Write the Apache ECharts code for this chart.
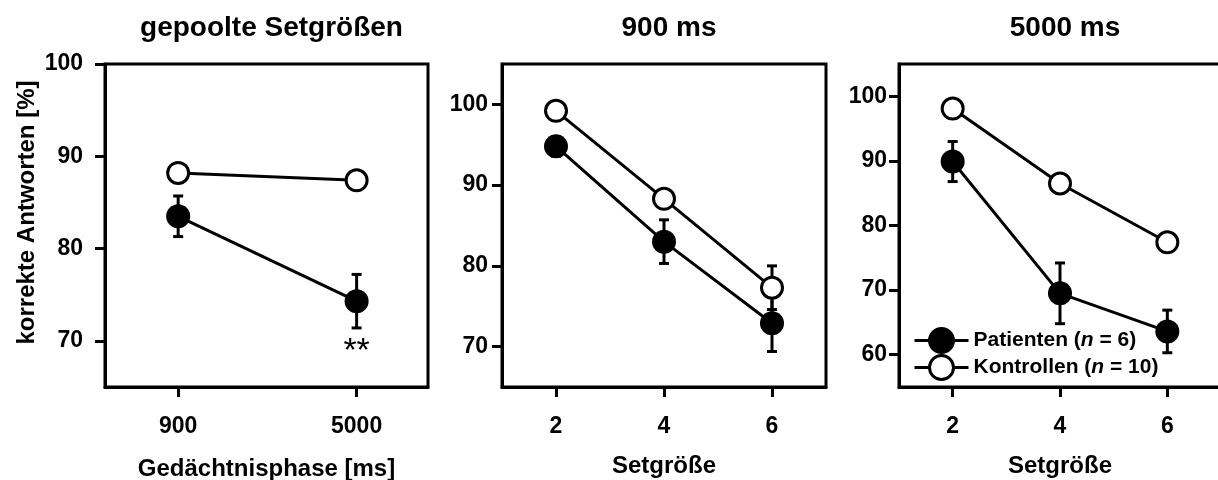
<!DOCTYPE html>
<html>
<head>
<meta charset="utf-8">
<script src="https://cdn.jsdelivr.net/npm/echarts@6/dist/echarts.min.js"></script>
<style>
html,body{margin:0;padding:0;background:#fff;}
#chart{width:1218px;height:480px;}
</style>
</head>
<body>
<div id="chart"></div>
<script>
// ---- data ----
const panelTitles = ['gepoolte Setgrößen', '900 ms', '5000 ms'];
const phaseLabels = ['900', '5000'];
const phaseIdx = [0, 1];
const setSizes = [2, 4, 6];
const legendNames = ['Patienten', 'Kontrollen'];
const legendN = ['6', '10'];
const yTitle = 'korrekte Antworten [%]';
const xTitles = ['Gedächtnisphase [ms]', 'Setgröße', 'Setgröße'];

const p1Pat = [83.5, 74.3];
const p1PatErr = [2.2, 2.9];
const p1Kon = [88.2, 87.4];
const p1KonErr = [0.5, 0.5];

const p2Pat = [94.8, 83.0, 72.9];
const p2PatErr = [1.2, 2.7, 3.5];
const p2Kon = [99.2, 88.3, 77.3];
const p2KonErr = [0.5, 0.8, 2.7];

const p3Pat = [89.9, 69.5, 63.6];
const p3PatErr = [3.1, 4.7, 3.3];
const p3Kon = [98.1, 86.5, 77.4];
const p3KonErr = [0.5, 0.8, 0.8];

const yTicks1 = [70, 80, 90, 100];
const yTicks2 = [70, 80, 90, 100];
const yTicks3 = [60, 70, 80, 90, 100];
const sigMark = '**';
const sigValue = 68.8;

// ---- chart ----
const FONT = '"Liberation Sans", Arial, sans-serif';
const chart = echarts.init(document.getElementById('chart'));

const grids = [
  {left: 105, top: 64, width: 323, height: 323},
  {left: 502, top: 64, width: 324, height: 323},
  {left: 899, top: 64, width: 322, height: 323}
];
grids.forEach(g => {
  g.show = true; g.borderColor = '#000'; g.borderWidth = 3; g.backgroundColor = 'transparent';
  g.containLabel = false; g.outerBoundsMode = 'none';
});

function xAxis(i, min, max, ticks, fmt, gap) {
  return {
    type: 'value', gridIndex: i, min: min, max: max,
    name: xTitles[i], nameLocation: 'middle', nameGap: gap,
    nameTextStyle: {fontFamily: FONT, fontWeight: 'bold', fontSize: 24, color: '#000'},
    axisLine: {show: true, onZero: false, lineStyle: {color: '#000', width: 3}},
    axisTick: {show: true, customValues: ticks, length: 10, inside: false, lineStyle: {color: '#000', width: 3}},
    axisLabel: {customValues: ticks, formatter: fmt, margin: 28, fontFamily: FONT, fontWeight: 'bold', fontSize: 23, color: '#000'},
    splitLine: {show: false}
  };
}
function yAxis(i, min, max, ticks, margin) {
  return {
    type: 'value', gridIndex: i, min: min, max: max,
    axisLine: {show: true, onZero: false, lineStyle: {color: '#000', width: 3}},
    axisTick: {show: true, customValues: ticks, length: 10, lineStyle: {color: '#000', width: 3}},
    axisLabel: {customValues: ticks, margin: margin, fontFamily: FONT, fontWeight: 'bold', fontSize: 23, color: '#000'},
    splitLine: {show: false}
  };
}

const xAxes = [
  xAxis(0, -0.41, 1.4, phaseIdx, v => phaseLabels[Math.round(v)] || '', 70),
  xAxis(1, 1, 7, setSizes, v => String(v), 67),
  xAxis(2, 1, 7, setSizes, v => String(v), 67)
];
const yAxes = [
  yAxis(0, 65, 100, yTicks1, 22),
  yAxis(1, 65, 105, yTicks2, 14),
  yAxis(2, 55, 105, yTicks3, 12)
];
yAxes[0].name = yTitle;
yAxes[0].nameLocation = 'middle';
yAxes[0].nameGap = 66;
yAxes[0].nameTextStyle = {fontFamily: FONT, fontWeight: 'bold', fontSize: 24, color: '#000', padding: [0, 0, 0, 26]};

function errSeries(name, i, xs, ys, es) {
  return {
    type: 'custom', name: name, xAxisIndex: i, yAxisIndex: i, z: 2,
    data: xs.map((x, k) => [x, ys[k], es[k]]),
    renderItem: function (params, api) {
      const x = api.value(0), y = api.value(1), e = api.value(2);
      const top = api.coord([x, y + e]);
      const bot = api.coord([x, y - e]);
      const hw = 5;
      const st = {stroke: '#000', lineWidth: 3, fill: 'none'};
      return {type: 'group', children: [
        {type: 'line', shape: {x1: top[0], y1: top[1], x2: bot[0], y2: bot[1]}, style: st},
        {type: 'line', shape: {x1: top[0] - hw, y1: top[1], x2: top[0] + hw, y2: top[1]}, style: st},
        {type: 'line', shape: {x1: bot[0] - hw, y1: bot[1], x2: bot[0] + hw, y2: bot[1]}, style: st}
      ]};
    },
    silent: true
  };
}
function lineSeries(name, i, xs, ys, filled) {
  return {
    type: 'line', name: name, xAxisIndex: i, yAxisIndex: i, z: 3,
    data: xs.map((x, k) => [x, ys[k]]),
    symbol: 'circle', symbolSize: filled ? 24 : 21,
    showAllSymbol: true,
    lineStyle: {color: '#000', width: 3},
    itemStyle: filled ? {color: '#000', borderColor: '#000', borderWidth: 0}
                      : {color: '#fff', borderColor: '#000', borderWidth: 3},
    emphasis: {disabled: true},
    animation: false
  };
}

const series = [
  errSeries('errP1', 0, phaseIdx, p1Pat, p1PatErr),
  errSeries('errK1', 0, phaseIdx, p1Kon, p1KonErr),
  errSeries('errP2', 1, setSizes, p2Pat, p2PatErr),
  errSeries('errK2', 1, setSizes, p2Kon, p2KonErr),
  errSeries('errP3', 2, setSizes, p3Pat, p3PatErr),
  errSeries('errK3', 2, setSizes, p3Kon, p3KonErr),
  lineSeries(legendNames[0], 0, phaseIdx, p1Pat, true),
  lineSeries(legendNames[1], 0, phaseIdx, p1Kon, false),
  lineSeries(legendNames[0], 1, setSizes, p2Pat, true),
  lineSeries(legendNames[1], 1, setSizes, p2Kon, false),
  lineSeries(legendNames[0], 2, setSizes, p3Pat, true),
  lineSeries(legendNames[1], 2, setSizes, p3Kon, false)
];
series[6].markPoint = {
  symbol: 'circle', symbolSize: 0, silent: true,
  data: [{coord: [phaseIdx[1], sigValue], value: sigMark}],
  label: {show: true, formatter: sigMark, position: 'inside', fontFamily: FONT, fontSize: 34, color: '#000', fontWeight: 'normal'}
};

chart.setOption({
  animation: false,
  backgroundColor: '#fff',
  title: panelTitles.map((t, i) => ({
    text: t, left: grids[i].left + grids[i].width / 2, top: 9, textAlign: 'center',
    textStyle: {fontFamily: FONT, fontWeight: 'bold', fontSize: 28, color: '#000'}
  })),
  grid: grids,
  xAxis: xAxes,
  yAxis: yAxes,
  legend: {
    data: legendNames, orient: 'vertical', left: 908, top: 322,
    itemWidth: 54, itemHeight: 30, itemGap: 0, selectedMode: false,
    lineStyle: {width: 3, color: '#000'},
    itemStyle: {borderWidth: 3, borderColor: '#000'},
    formatter: function (name) {
      const k = legendNames.indexOf(name);
      return '{a|' + name + ' (}{i|n}{a| = ' + legendN[k] + ')}';
    },
    textStyle: {
      rich: {
        a: {fontFamily: FONT, fontWeight: 'bold', fontSize: 21, color: '#000'},
        i: {fontFamily: FONT, fontWeight: 'bold', fontStyle: 'italic', fontSize: 21, color: '#000'}
      }
    }
  },
  series: series
});
</script>
</body>
</html>
